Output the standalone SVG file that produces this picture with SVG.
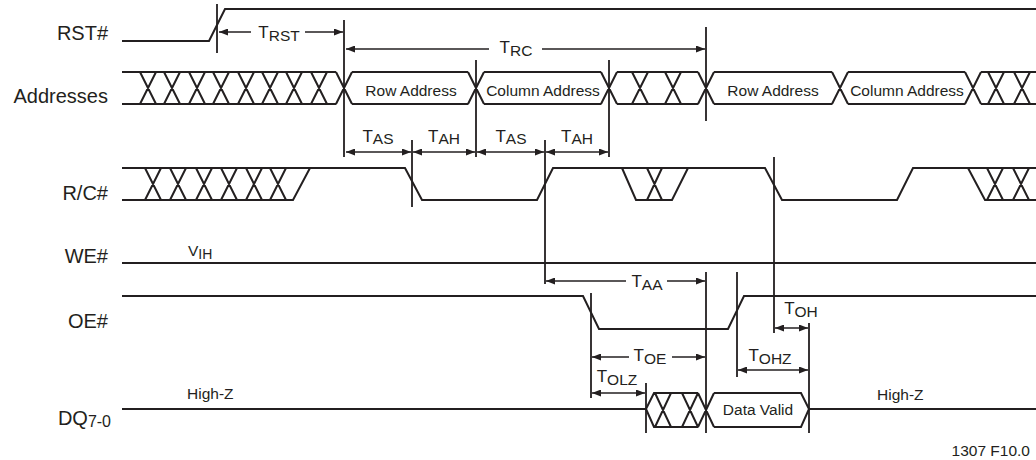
<svg xmlns="http://www.w3.org/2000/svg" width="1036" height="460" viewBox="0 0 1036 460">
<style>
.sig{fill:none;stroke:#231f20;stroke-width:2;stroke-linejoin:miter}
.ref{fill:none;stroke:#231f20;stroke-width:1.8}
.arr{fill:none;stroke:#231f20;stroke-width:1.5}
text{font-family:"Liberation Sans",Arial,sans-serif;fill:#231f20}
.lbl{font-size:20px;text-anchor:end}
.bus{font-size:15.5px;text-anchor:middle}
.tm{font-size:17px;text-anchor:middle}
.sub{font-size:15.5px}
.note{font-size:15.5px}
</style>
<defs>
<marker id="ah" markerUnits="userSpaceOnUse" markerWidth="9" markerHeight="7" refX="9" refY="3.5" orient="auto-start-reverse">
<path d="M0,0 L9,3.5 L0,7 z" fill="#231f20"/>
</marker>
</defs>
<rect width="1036" height="460" fill="#ffffff"/>

<g id="rst">
<text class="lbl" x="108" y="40">RST#</text>
<path class="sig" d="M122,41 H209 L225,9 H1036"/>
</g>

<g id="addresses">
<text class="lbl" x="108" y="103">Addresses</text>
<path class="sig" d="M122,72 H336 M352,72 H468 M484,72 H601 M617,72 H698 M714,72 H832 M848,72 H965 M981,72 H1036
M122,104 H336 M352,104 H468 M484,104 H601 M617,104 H698 M714,104 H832 M848,104 H965 M981,104 H1036
M140,72 L156,104 M140,104 L156,72
M164,72 L180,104 M164,104 L180,72
M189,72 L205,104 M189,104 L205,72
M213,72 L229,104 M213,104 L229,72
M238,72 L254,104 M238,104 L254,72
M262,72 L278,104 M262,104 L278,72
M286,72 L302,104 M286,104 L302,72
M311,72 L327,104 M311,104 L327,72
M336,72 L352,104 M336,104 L352,72
M468,72 L484,104 M468,104 L484,72
M601,72 L617,104 M601,104 L617,72
M632,72 L648,104 M632,104 L648,72
M665,72 L681,104 M665,104 L681,72
M698,72 L714,104 M698,104 L714,72
M832,72 L848,104 M832,104 L848,72
M965,72 L981,104 M965,104 L981,72
M988,72 L1004,104 M988,104 L1004,72
M1014,72 L1030,104 M1014,104 L1030,72"/>
<text class="bus" x="411" y="95.5">Row Address</text>
<text class="bus" x="543" y="95.5">Column Address</text>
<text class="bus" x="773" y="95.5">Row Address</text>
<text class="bus" x="907" y="95.5">Column Address</text>
</g>

<g id="rc">
<text class="lbl" x="108" y="200">R/C#</text>
<path class="sig" d="M122,168 H405 L422,200 H537 L553,168 H765 L782,200 H897 L913,168 H1036
M122,200 H293 L310,168
M145,168 L161,200 M145,200 L161,168
M170,168 L186,200 M170,200 L186,168
M196,168 L212,200 M196,200 L212,168
M221,168 L237,200 M221,200 L237,168
M246,168 L262,200 M246,200 L262,168
M270,168 L286,200 M270,200 L286,168
M622,168 L636,200 H672 L688,168
M647,168 L662,200 M662,168 L647,200
M968,168 L985,200 H1036
M987,168 L1003,200 M987,200 L1003,168
M1013,168 L1029,200 M1013,200 L1029,168"/>
</g>

<g id="we">
<text class="lbl" x="108" y="263">WE#</text>
<path class="sig" d="M122,263 H1036"/>
<text x="188" y="256" font-size="15.5">V<tspan font-size="14" dy="3">IH</tspan></text>
</g>

<g id="oe">
<text class="lbl" x="108" y="328">OE#</text>
<path class="sig" d="M122,296 H583 L599,329 H728 L744,296 H1036"/>
</g>

<g id="dq">
<text class="lbl" x="111" y="425">DQ<tspan font-size="16" dy="2">7-0</tspan></text>
<text x="187" y="399" class="note">High-Z</text>
<text x="877" y="400" class="note">High-Z</text>
<path class="sig" d="M122,409 H646 L654,393 H698 M646,409 L654,427 H698
M655,393 L671,427 M655,427 L671,393
M682,393 L698,427 M682,427 L698,393
M698,393 L714,427 M698,427 L714,393
M714,393 H801 L809,409 L801,427 H714
M809,409 H1036"/>
<text class="bus" x="758" y="415">Data Valid</text>
</g>

<g id="connectors">
<path class="ref" d="M217,4 V53 M344,20 V157 M706,27 V121 M476,60 V157 M609,60 V157 M412,140 V207 M545,140 V284 M774,157 V333 M591,293 V398 M706,272 V433 M737,272 V377 M809,323 V433 M646,383 V433"/>
<line class="arr" x1="251" y1="32" x2="219" y2="32" marker-end="url(#ah)"/>
<line class="arr" x1="305" y1="32" x2="343" y2="32" marker-end="url(#ah)"/>
<line class="arr" x1="489" y1="49" x2="346" y2="49" marker-end="url(#ah)"/>
<line class="arr" x1="542" y1="49" x2="705" y2="49" marker-end="url(#ah)"/>
<line class="arr" x1="346" y1="152" x2="411" y2="152" marker-start="url(#ah)" marker-end="url(#ah)"/>
<line class="arr" x1="413" y1="152" x2="475" y2="152" marker-start="url(#ah)" marker-end="url(#ah)"/>
<line class="arr" x1="477" y1="152" x2="544" y2="152" marker-start="url(#ah)" marker-end="url(#ah)"/>
<line class="arr" x1="546" y1="152" x2="608" y2="152" marker-start="url(#ah)" marker-end="url(#ah)"/>
<line class="arr" x1="626" y1="281" x2="546" y2="281" marker-end="url(#ah)"/>
<line class="arr" x1="667" y1="281" x2="705" y2="281" marker-end="url(#ah)"/>
<line class="arr" x1="629" y1="357" x2="592" y2="357" marker-end="url(#ah)"/>
<line class="arr" x1="672" y1="357" x2="705" y2="357" marker-end="url(#ah)"/>
<line class="arr" x1="592" y1="393" x2="645" y2="393" marker-start="url(#ah)" marker-end="url(#ah)"/>
<line class="arr" x1="775" y1="328" x2="808" y2="328" marker-start="url(#ah)" marker-end="url(#ah)"/>
<line class="arr" x1="738" y1="370" x2="808" y2="370" marker-start="url(#ah)" marker-end="url(#ah)"/>
<text class="tm" x="279" y="38">T<tspan class="sub" dy="3">RST</tspan></text>
<text class="tm" x="516" y="53">T<tspan class="sub" dy="3">RC</tspan></text>
<text class="tm" x="378" y="142">T<tspan class="sub" dy="2">AS</tspan></text>
<text class="tm" x="444" y="142">T<tspan class="sub" dy="2">AH</tspan></text>
<text class="tm" x="511" y="142">T<tspan class="sub" dy="2">AS</tspan></text>
<text class="tm" x="577" y="142">T<tspan class="sub" dy="2">AH</tspan></text>
<text class="tm" x="647" y="287">T<tspan class="sub" dy="3">AA</tspan></text>
<text class="tm" x="650" y="361">T<tspan class="sub" dy="3">OE</tspan></text>
<text class="tm" x="617" y="382">T<tspan class="sub" dy="3">OLZ</tspan></text>
<text class="tm" x="801" y="314">T<tspan class="sub" dy="3">OH</tspan></text>
<text class="tm" x="770" y="361">T<tspan class="sub" dy="3">OHZ</tspan></text>
</g>

<text x="1030" y="456" class="note" text-anchor="end">1307 F10.0</text>
</svg>
